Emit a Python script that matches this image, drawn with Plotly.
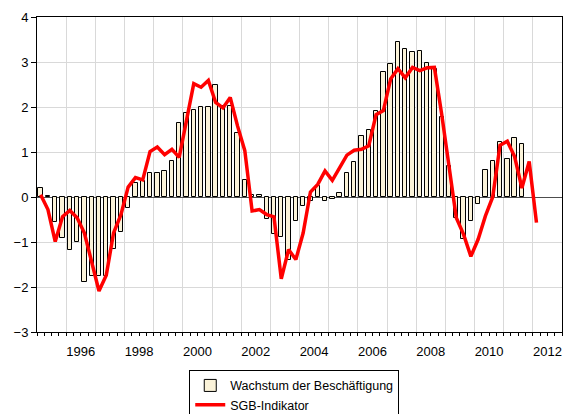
import plotly.graph_objects as go

# Quarterly data, 1995Q1 onwards
start_year = 1995
employment_growth = [
    0.20, 0.02, -0.55, -0.90, -1.18, -1.01, -1.88, -1.76, -1.76, -1.75,
    -1.15, -0.77, -0.25, 0.32, 0.35, 0.54, 0.54, 0.57, 0.80, 1.64,
    1.86, 1.93, 2.01, 2.01, 2.50, 2.02, 2.02, 1.43, 0.37, 0.04,
    0.04, -0.48, -0.83, -0.89, -1.40, -0.53, -0.20, -0.08, 0.24, -0.08,
    -0.04, 0.09, 0.54, 0.77, 1.35, 1.50, 1.91, 2.77, 2.95, 3.45,
    3.28, 3.23, 3.24, 2.98, 2.85, 1.77, 0.70, -0.46, -0.93, -0.53,
    -0.16, 0.61, 0.81, 1.22, 0.84, 1.31, 1.17,
]
sgb_indicator = [
    0.05, -0.28, -0.99, -0.44, -0.30, -0.46, -0.80, -1.43, -2.09, -1.74,
    -0.80, -0.40, 0.22, 0.43, 0.38, 1.01, 1.11, 0.94, 1.06, 0.88,
    1.68, 2.52, 2.44, 2.59, 2.10, 1.98, 2.21, 1.58, 1.03, -0.31,
    -0.28, -0.39, -0.44, -1.82, -1.17, -1.39, -0.80, 0.11, 0.28, 0.58,
    0.37, 0.65, 0.93, 1.04, 1.06, 1.14, 1.83, 1.92, 2.62, 2.85,
    2.65, 2.88, 2.81, 2.87, 2.88, 1.84, 0.65, -0.46, -0.83, -1.32,
    -0.94, -0.42, 0.00, 1.15, 1.24, 0.90, 0.20, 0.79, -0.57,
]
year_labels = ["1996", "1998", "2000", "2002", "2004", "2006", "2008", "2010", "2012"]
y_ticks = [4, 3, 2, 1, 0, -1, -2, -3]

def qpos(i):
    # centre of the i-th quarter slot, in decimal years
    return start_year + (i + 0.5) / 4.0

x_bar = [qpos(i) for i in range(len(employment_growth))]
x_line = [qpos(i) for i in range(len(sgb_indicator))]
year_bounds = list(range(start_year, 2014))
label_pos = [int(y) + 0.5 for y in year_labels]

FONT = "Liberation Sans, Arial, sans-serif"
GRID = "#d9d9d9"

fig = go.Figure()
fig.add_trace(go.Bar(
    x=x_bar, y=employment_growth, width=0.15,
    name="Wachstum der Beschäftigung",
    marker=dict(color="#fbf3d9", line=dict(color="black", width=1)),
    xaxis="x", yaxis="y",
))
fig.add_trace(go.Scatter(
    x=x_line, y=sgb_indicator, mode="lines",
    name="SGB-Indikator",
    line=dict(color="#ff0000", width=3.5),
    xaxis="x2", yaxis="y",
))

fig.update_layout(
    width=568, height=414, autosize=False,
    margin=dict(l=37, r=6, t=17, b=82, autoexpand=False),
    paper_bgcolor="white", plot_bgcolor="white",
    font=dict(family=FONT, size=13, color="black"),
    bargap=0,
    xaxis=dict(
        range=[1995, 2013],
        tickmode="array", tickvals=year_bounds, ticktext=["" for _ in year_bounds],
        showticklabels=False,
        ticks="outside", ticklen=6, tickwidth=1, tickcolor="black",
        showgrid=True, gridcolor=GRID, gridwidth=1,
        showline=True, linecolor="black", linewidth=1, mirror=True,
        zeroline=False,
        minor=dict(tick0=1995, dtick=0.25, ticks="outside", ticklen=3,
                   tickcolor="black", showgrid=False),
    ),
    xaxis2=dict(
        range=[1995, 2013], overlaying="x", anchor="y", side="bottom",
        tickmode="array", tickvals=label_pos, ticktext=year_labels,
        ticks="outside", ticklen=7, tickcolor="rgba(0,0,0,0)",
        ticklabeloverflow="allow",
        showgrid=False, showline=False, zeroline=False,
        tickfont=dict(family=FONT, size=13, color="black"),
    ),
    yaxis=dict(
        range=[-3, 4], tickmode="array", tickvals=y_ticks,
        ticks="outside", ticklen=5, tickcolor="black",
        showgrid=True, gridcolor=GRID, gridwidth=1,
        showline=True, linecolor="black", linewidth=1, mirror=True,
        zeroline=True, zerolinecolor="#4d4d4d", zerolinewidth=1,
        tickfont=dict(family=FONT, size=13, color="black"),
    ),
    showlegend=True,
    legend=dict(
        x=0.49, xanchor="center", y=-0.12, yanchor="top",
        orientation="v", bordercolor="black", borderwidth=1,
        bgcolor="white", font=dict(family=FONT, size=12.5, color="black"),
        tracegroupgap=0, itemwidth=30,
    ),
)

fig.write_html("out.html",
               config={"displayModeBar": False},
               post_script="document.body.style.margin='0px';document.body.style.overflow='hidden';")
